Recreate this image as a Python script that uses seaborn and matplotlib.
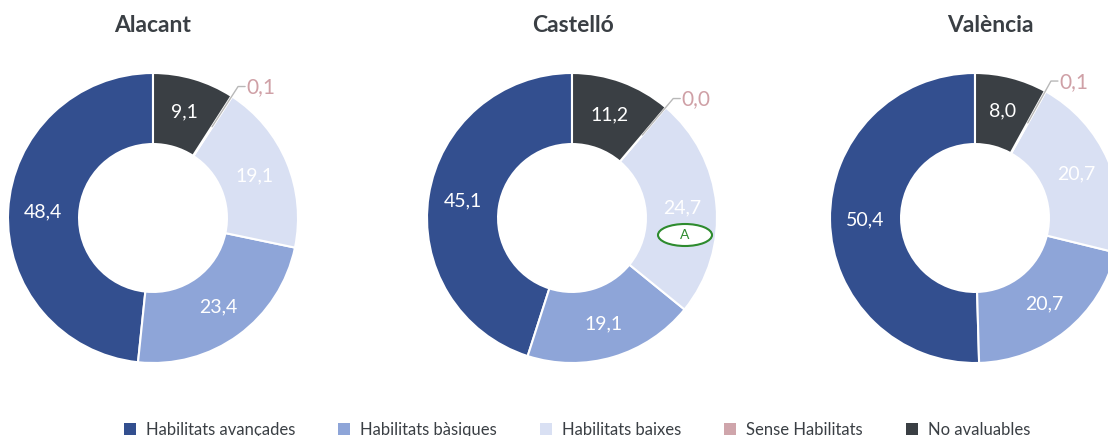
import numpy as np
import pandas as pd
import matplotlib
matplotlib.use("Agg")
import matplotlib.pyplot as plt
import seaborn as sns
from matplotlib.patches import Patch, Ellipse

regions = ["Alacant", "Castelló", "València"]
categories = ["Habilitats avançades", "Habilitats bàsiques", "Habilitats baixes",
              "Sense Habilitats", "No avaluables"]
alacant = [48.4, 23.4, 19.1, 0.1, 9.1]
castello = [45.1, 19.1, 24.7, 0.0, 11.2]
valencia = [50.4, 20.7, 20.7, 0.1, 8.0]
values = [alacant, castello, valencia]

colors = ["#334f8f", "#8ea5d8", "#d9e0f3", "#cfa5ab", "#3a3f44"]

sns.set_theme(style="white")
plt.rcParams['font.family'] = ['Lato', 'DejaVu Sans']

W, H = 1108, 436
fig = plt.figure(figsize=(W / 100, H / 100), dpi=100)

centers = [(153, 218), (572, 218), (975, 218)]
title_x = [153, 573, 990]
R = 145
half = 160

def fmt(v):
    return f"{v:.1f}".replace(".", ",")

axes = []
for reg, vals, (cx, cy), tx in zip(regions, values, centers, title_x):
    ax = fig.add_axes([(cx - half) / W, (H - cy - half) / H, 2 * half / W, 2 * half / H])
    wedges, _ = ax.pie(vals, colors=colors, startangle=90, counterclock=True,
                       radius=R, wedgeprops=dict(width=R * 0.49, edgecolor="white", linewidth=1.5))
    ax.set_xlim(-half, half)
    ax.set_ylim(-half, half)
    ax.set_aspect("equal")
    ax.axis("off")
    axes.append(ax)
    total = sum(vals)
    cum = 0.0
    for i, v in enumerate(vals):
        a0 = 90 + cum / total * 360
        cum += v
        a1 = 90 + cum / total * 360
        mid = np.deg2rad((a0 + a1) / 2)
        if categories[i] == "Sense Habilitats":
            r0, r1 = R * 0.75, R * 1.08
            x0, y0 = r0 * np.cos(mid), r0 * np.sin(mid)
            x1, y1 = r1 * np.cos(mid), r1 * np.sin(mid)
            ax.plot([x0, x1, x1 + 7], [y0, y1, y1], color="#b8b8b8", lw=1, clip_on=False)
            ax.text(x1 + 8, y1 - 1, fmt(v), color="#cfa0a6", fontsize=15,
                    ha="left", va="center", clip_on=False)
        else:
            r = R * 0.76
            ax.text(r * np.cos(mid), r * np.sin(mid), fmt(v), color="white",
                    fontsize=14, ha="center", va="center")
    fig.text(tx / W, 1 - 25 / H, reg, ha="center", va="center", fontsize=16.5,
             fontweight="bold", color="#3a3f44")

# marker annotation on Castelló
axc = axes[1]
axc.add_patch(Ellipse((113, -17), 54, 22, fc="white", ec="#2e8b2e", lw=1.5, zorder=5))
axc.text(113, -17, "A", ha="center", va="center", fontsize=10, color="#2e8b2e", zorder=6)

handles = [Patch(facecolor=c, edgecolor="none") for c in colors]
fig.legend(handles, categories, loc="center", bbox_to_anchor=(577 / W, 1 - 430 / H),
           ncol=5, frameon=False, fontsize=12, handlelength=0.7, handleheight=0.7,
           handletextpad=0.6, columnspacing=2.6, labelcolor="#3a3f44")

fig.savefig("out.png", dpi=100)
